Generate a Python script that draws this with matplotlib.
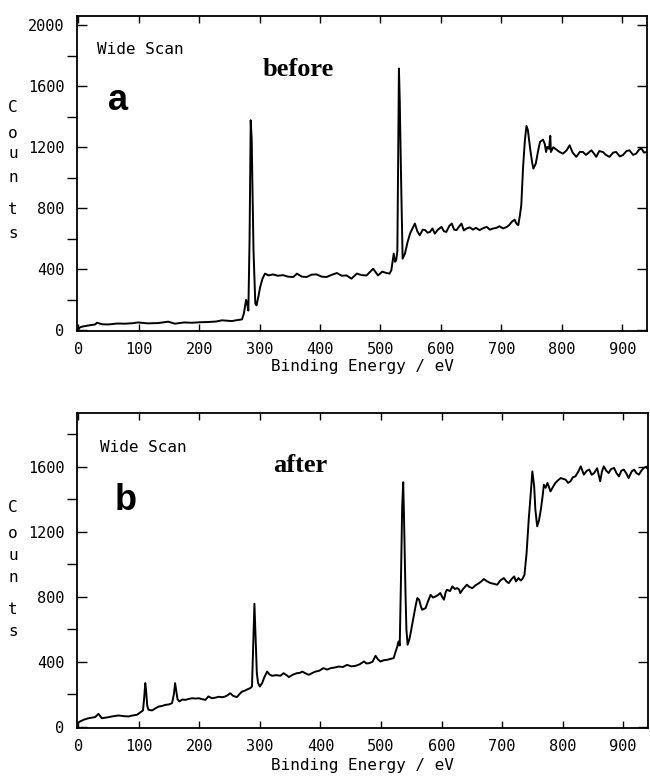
import matplotlib
matplotlib.use('Agg')
import matplotlib.pyplot as plt

# Espectro (a) antes: energia de enlace (eV) y cuentas
ev_antes = [0, 3, 8, 18, 28, 31, 40, 50, 65, 78, 90, 99, 115, 132, 149, 160, 175, 188, 200, 215,
            228, 238, 254, 264, 271, 274, 277.7, 279, 281.5, 283.5, 285.4, 287, 290, 293, 295, 298,
            301, 305, 309, 315, 322, 330, 339, 347, 356, 362, 370, 378, 386, 394, 403, 411, 420, 428,
            436, 444, 452, 461, 469, 477, 488, 496, 503, 510, 515, 518, 522, 524, 526, 528, 530.6,
            532, 534, 536.7, 540.5, 545, 549, 553, 557, 561, 565, 570, 574, 578, 582, 586, 590, 595,
            601, 605, 609, 614, 618, 622, 626, 630, 634, 638, 642, 648, 653, 658, 664, 670, 676, 681,
            686, 692, 697, 703, 709, 713, 717, 722, 725, 728, 731, 733, 736, 739, 741.6, 744, 748,
            751, 753, 757, 761, 764, 769, 772, 774, 776, 779, 781, 782, 786, 791, 796, 802, 808, 813,
            818, 824, 830, 835, 840, 849, 853, 857, 862, 868, 873, 879, 885, 890, 896, 901, 907, 912,
            918, 923, 928, 932, 936, 940, 945]
cuentas_antes = [5, 20, 26, 33, 39, 50, 40, 39, 45, 44, 47, 52, 46, 48, 57, 44, 52, 50, 53, 55,
                 58, 66, 61, 68, 72, 110, 200, 185, 130, 600, 1377, 1250, 525, 175, 164, 220,
                 284, 340, 372, 360, 367, 358, 362, 352, 350, 372, 352, 350, 365, 367, 352, 350, 365, 376,
                 358, 360, 339, 372, 362, 360, 404, 360, 385, 376, 372, 393, 503, 450, 459, 520, 1716,
                 1500, 1027, 470, 503, 580, 634, 668, 700, 650, 623, 660, 657, 640, 645, 668, 634, 660,
                 678, 650, 645, 685, 700, 660, 657, 680, 700, 655, 667, 675, 660, 672, 657, 670, 678, 660,
                 667, 672, 682, 668, 678, 690, 710, 726, 700, 689, 760, 820, 1071, 1246, 1340, 1311, 1180,
                 1100, 1060, 1093, 1180, 1235, 1250, 1220, 1169, 1202, 1190, 1275, 1169, 1200, 1185, 1170, 1158, 1180, 1213,
                 1165, 1137, 1170, 1169, 1150, 1180, 1160, 1137, 1175, 1169, 1150, 1137, 1165, 1169, 1140, 1148, 1175, 1180,
                 1150, 1158, 1185, 1191, 1165, 1169, 1180]

# Espectro (b) despues
ev_despues = [0, 3, 10, 17, 28, 33.6, 39, 48, 56, 67, 75, 83, 90, 97, 103, 107, 109, 110.7, 112, 114,
              116, 122, 128, 133, 138, 144, 150, 155, 158, 160, 161.6, 164, 167, 172, 177, 183, 188,
              194, 199, 205, 210, 215, 221, 227, 232, 238, 243, 247, 251, 256, 262, 266, 270.5, 275,
              279, 284, 287, 289, 291, 292.5, 295, 297, 300, 303.6, 308, 312, 316, 320, 327, 334, 339,
              344, 348, 354, 361, 366, 370, 376, 381, 387, 392, 398, 405, 411, 417, 424, 430, 437, 444,
              451, 458, 465, 472, 476, 480, 486, 491, 495, 499, 505, 510, 516, 521, 524, 527, 529, 531,
              533, 535, 536.7, 538, 540.5, 542, 544, 547, 549, 554, 557, 560, 563, 566, 568, 571, 573.6,
              578, 582, 586, 590, 594, 598, 601, 604, 607, 609, 614, 618, 622, 626, 629, 631, 636, 642,
              646, 651, 656, 662, 666, 670, 675, 681, 686, 692, 697, 703, 707, 711, 716, 720, 723, 727,
              731, 734, 737, 740.5, 744, 747, 750, 753, 755, 758, 761, 764, 767, 769, 772, 775, 780, 784,
              788, 792, 797, 801, 805, 809, 813, 817, 821, 826, 830, 835, 840, 844, 848, 852, 857, 862,
              865, 868, 872, 876, 880, 885, 889, 893, 897, 901, 905, 909, 914, 918, 922, 926, 930, 934,
              938, 943, 945]
cuentas_despues = [25, 33, 45, 53, 60, 80, 53, 58, 64, 70, 66, 64, 70, 74, 90, 101, 180, 269, 228, 130,
                   105, 101, 115, 125, 128, 135, 138, 146, 200, 269, 228, 170, 156, 168, 166, 172, 176,
                   174, 176, 170, 166, 187, 176, 180, 185, 182, 187, 195, 207, 190, 183, 200, 217, 222,
                   230, 238, 248, 500, 757, 600, 330, 270, 248, 268, 310, 340, 322, 314, 318, 314, 330,
                   318, 306, 320, 330, 332, 340, 328, 320, 332, 340, 345, 361, 352, 361, 365, 371, 368, 381,
                   372, 375, 385, 402, 390, 391, 400, 437, 415, 402, 410, 412, 418, 423, 460, 494, 525, 500,
                   900, 1350, 1504, 1300, 823, 600, 505, 540, 577, 679, 740, 792, 782, 740, 720, 725, 730,
                   775, 812, 795, 802, 810, 823, 800, 782, 830, 843, 835, 864, 848, 853, 845, 823, 850, 874,
                   860, 853, 870, 884, 895, 909, 895, 884, 880, 874, 900, 915, 895, 884, 910, 925, 894, 915,
                   900, 912, 935, 1069, 1274, 1417, 1571, 1479, 1335, 1233, 1270, 1335, 1420, 1489, 1470, 1500, 1448, 1475,
                   1500, 1515, 1530, 1525, 1520, 1500, 1510, 1535, 1540, 1570, 1602, 1551, 1575, 1582, 1550, 1561, 1590, 1510,
                   1570, 1602, 1575, 1561, 1585, 1592, 1560, 1540, 1575, 1582, 1560, 1530, 1570, 1582, 1560, 1551, 1575, 1592,
                   1600, 1571, 1580]

xticks = [0, 100, 200, 300, 400, 500, 600, 700, 800, 900]
yticks_a = [0, 400, 800, 1200, 1600, 2000]
yticks_b = [0, 400, 800, 1200, 1600]

mono = 'DejaVu Sans Mono'
W, H = 650, 781

fig = plt.figure(figsize=(6.5, 7.81), dpi=100)


def fx(px):
    return px / W


def fy(py):
    return 1 - py / H


def panel(rect, ev, cuentas, yticks, ymax, lpad):
    ax = fig.add_axes(rect)
    ax.plot(ev, cuentas, color='black', linewidth=1.4)
    ax.set_xlim(-2, 941)
    ax.set_ylim(-4, ymax)
    ax.set_xticks(xticks)
    ax.set_yticks(yticks)
    ax.set_yticks(range(0, int(ymax), 200), minor=True)
    ax.tick_params(axis='both', direction='in', top=True, right=True,
                   labelsize=11, width=1.0, color='black')
    ax.tick_params(axis='x', length=5, pad=8)
    ax.tick_params(axis='y', which='both', length=7, pad=9)
    ax.tick_params(axis='y', which='minor', width=1.0)
    for lab in ax.get_xticklabels() + ax.get_yticklabels():
        lab.set_fontfamily(mono)
    for s in ax.spines.values():
        s.set_linewidth(1.3)
    ax.set_xlabel('Binding Energy / eV', fontsize=11.5, fontfamily=mono, labelpad=lpad)
    return ax


ax_a = panel([fx(77), fy(331), fx(647) - fx(77), fy(16) - fy(331)],
             ev_antes, cuentas_antes, yticks_a, 2060, 1)
ax_b = panel([fx(77), fy(727.5), fx(648) - fx(77), fy(413) - fy(727.5)],
             ev_despues, cuentas_despues, yticks_b, 1930, 3)

# Textos del panel a
fig.text(fx(97), fy(50), 'Wide Scan', fontsize=11.5, fontfamily=mono, va='center')
fig.text(fx(108), fy(100), 'a', fontsize=26, fontweight='bold', fontfamily='Liberation Sans', va='center')
fig.text(fx(263), fy(70), 'before', fontsize=19, fontweight='bold', fontfamily='Liberation Serif', va='center')
for letra, py in zip('Counts', [108, 133, 154, 177, 210, 233]):
    fig.text(fx(13), fy(py), letra, fontsize=11.5, fontfamily=mono, ha='center', va='center')

# Textos del panel b
fig.text(fx(100), fy(447), 'Wide Scan', fontsize=11.5, fontfamily=mono, va='center')
fig.text(fx(115), fy(500), 'b', fontsize=26, fontweight='bold', fontfamily='Liberation Sans', va='center')
fig.text(fx(273), fy(465), 'after', fontsize=19, fontweight='bold', fontfamily='Liberation Serif', va='center')
for letra, py in zip('Counts', [507, 533, 555, 578, 610, 632]):
    fig.text(fx(13), fy(py), letra, fontsize=11.5, fontfamily=mono, ha='center', va='center')

fig.savefig('out.png', dpi=100)
plt.close(fig)
